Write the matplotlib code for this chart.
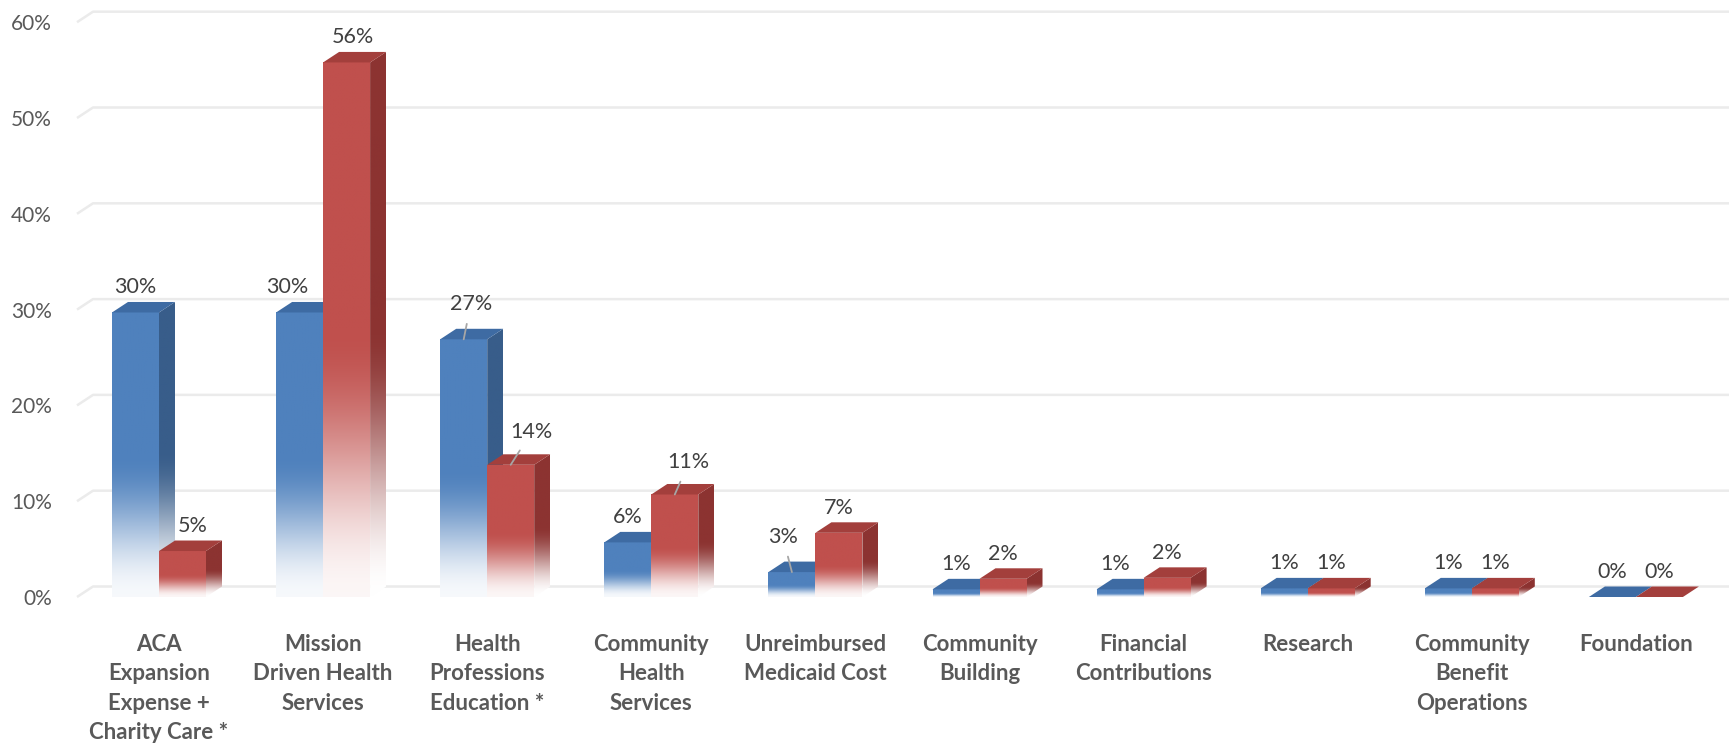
import numpy as np
import matplotlib
matplotlib.use("Agg")
import matplotlib.pyplot as plt
from matplotlib.patches import Polygon
from matplotlib.colors import to_rgb

# ---------------- data ----------------
categories = ["ACA\nExpansion\nExpense +\nCharity Care *",
              "Mission\nDriven Health\nServices",
              "Health\nProfessions\nEducation *",
              "Community\nHealth\nServices",
              "Unreimbursed\nMedicaid Cost",
              "Community\nBuilding",
              "Financial\nContributions",
              "Research",
              "Community\nBenefit\nOperations",
              "Foundation"]
values_blue = [29.7, 29.7, 26.9, 5.7, 2.6, 0.8, 0.8, 0.9, 0.9, 0.0]
values_red = [4.8, 55.8, 13.8, 10.7, 6.7, 1.9, 2.0, 0.9, 0.9, 0.0]
labels_blue = ["30%", "30%", "27%", "6%", "3%", "1%", "1%", "1%", "1%", "0%"]
labels_red = ["5%", "56%", "14%", "11%", "7%", "2%", "2%", "1%", "1%", "0%"]
yticks = [0, 10, 20, 30, 40, 50, 60]
ytick_labels = ["0%", "10%", "20%", "30%", "40%", "50%", "60%"]

# ---------------- style / geometry ----------------
plt.rcParams['font.family'] = ['Lato', 'DejaVu Sans']
PX_X = 164.1      # pixels per category unit
PX_Y = 9.58       # pixels per percent
W = 47 / PX_X     # bar width
DX = 16 / PX_X    # depth shift x
DY = 10.5 / PX_Y  # depth shift y
PT = 0.72         # points per pixel at dpi 100

styles = {
    'blue': dict(front='#4F81BD', side='#385D8A', top='#3E6BA3'),
    'red': dict(front='#C0504D', side='#8C3331', top='#A33F3C'),
}

# label offsets in pixels (dx, dy up) and whether a leader line is drawn
label_offsets_blue = {1: (-12, 25, False), 2: (7, 35, True), 4: (-9, 35, True), 6: (-5, 25, False)}
label_offsets_red = {0: (10, 25, False), 1: (6, 25, False), 2: (21, 33, True), 3: (14, 32, True)}

fig = plt.figure(figsize=(17.29, 7.49), dpi=100)
ax = fig.add_axes([60 / 1729, (749 - 620) / 749, 1669 / 1729, 620 / 749])

xmin = -(159 - 60) / PX_X
xmax = xmin + 1669 / PX_X
ymin = (597 - 620) / PX_Y
ymax = 597 / PX_Y


def grad_img(base, n=256, frac=0.5, floor=0.05):
    c = np.array(to_rgb(base))
    f = np.linspace(0, 1, n)
    m = np.clip(f / frac, 0, 1)
    m = floor + (1 - floor) * (m * m * (3 - 2 * m))
    rgb = (1 - m)[:, None] * np.ones(3) + m[:, None] * c
    return rgb[:, None, :]


def draw_bar(x0, v, st, z):
    # front face
    if v > 0:
        front = Polygon([(x0, 0), (x0 + W, 0), (x0 + W, v), (x0, v)], closed=True,
                        transform=ax.transData, facecolor='none', edgecolor='none')
        ax.add_patch(front)
        im = ax.imshow(grad_img(st['front']), extent=[x0, x0 + W, 0, v], origin='lower',
                       aspect='auto', interpolation='bilinear', zorder=z)
        im.set_clip_path(front)
    # side face
    side_v = [(x0 + W, 0), (x0 + W + DX, DY), (x0 + W + DX, v + DY), (x0 + W, v)]
    if v > 0:
        side = Polygon(side_v, closed=True, transform=ax.transData,
                       facecolor='none', edgecolor='none')
        ax.add_patch(side)
        im2 = ax.imshow(grad_img(st['side'], frac=0.5, floor=0.0), extent=[x0 + W, x0 + W + DX, 0, v + DY],
                        origin='lower', aspect='auto', interpolation='bilinear', zorder=z)
        im2.set_clip_path(side)
    else:
        ax.add_patch(Polygon(side_v, closed=True, facecolor=st['side'], edgecolor='none', zorder=z))
    # top face
    top = [(x0, v), (x0 + DX, v + DY), (x0 + W + DX, v + DY), (x0 + W, v)]
    ax.add_patch(Polygon(top, closed=True, facecolor=st['top'], edgecolor='none', zorder=z + 0.1))


# gridlines on the back wall with a short diagonal at the left
x_left = (77 - 159) / PX_X
for t in yticks:
    ax.plot([x_left, x_left + DX, xmax], [t, t + DY, t + DY], color='#ebebeb', lw=1.8,
            zorder=0, solid_capstyle='butt')

x = np.arange(len(categories))
for i in x:
    draw_bar(i - W, values_blue[i], styles['blue'], 2 + i * 0.01)
    draw_bar(i, values_red[i], styles['red'], 3 + i * 0.01)


def put_label(cx, v, text, off):
    dx, dy, leader = off
    kw = {}
    if leader:
        kw['arrowprops'] = dict(arrowstyle='-', color='#a6a6a6', lw=1.3, shrinkA=5, shrinkB=0)
    ax.annotate(text, xy=(cx, v), xytext=(dx * PT, dy * PT), textcoords='offset points',
                ha='center', va='center', fontsize=15.5, color='#404040', zorder=10, **kw)


for i in x:
    put_label(i - W / 2, values_blue[i], labels_blue[i], label_offsets_blue.get(i, (0, 25, False)))
    put_label(i + W / 2, values_red[i], labels_red[i], label_offsets_red.get(i, (0, 25, False)))

ax.set_xlim(xmin, xmax)
ax.set_ylim(ymin, ymax)
ax.set_yticks(yticks)
ax.set_yticklabels(ytick_labels, fontsize=15, color='#595959')
ax.set_xticks(x)
ax.set_xticklabels(categories, fontsize=16, fontweight='bold', color='#595959', linespacing=1.5,
                   va='top')
ax.tick_params(axis='both', length=0)
ax.tick_params(axis='y', pad=6)
ax.tick_params(axis='x', pad=10)
for s in ax.spines.values():
    s.set_visible(False)
ax.set_facecolor('white')

fig.savefig('out.png', dpi=100, facecolor='white')
